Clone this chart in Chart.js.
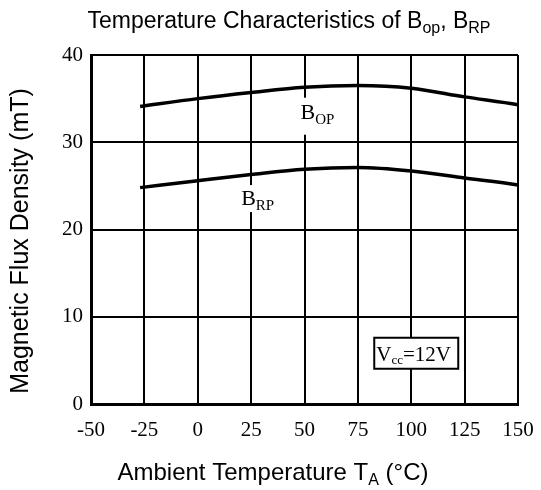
<!DOCTYPE html>
<html>
<head>
	<meta charset="UTF-8">
	<title>Temperature Characteristics of Bop, BRP</title>
	<script src="https://cdn.jsdelivr.net/npm/chart.js"></script>
	<style>
		body {
			margin: 0;
			padding: 0;
			background: #ffffff;
		}

		#chartContainer {
			width: 541px;
			height: 490px;
			position: relative;
		}
	</style>
	<script>
		// temperature (°C) and flux density (mT)
		const bopTemps = [-27, 0, 25, 50, 75, 100, 125, 150, 154];
		const bopValues = [34.1, 35.0, 35.7, 36.3, 36.5, 36.2, 35.2, 34.3, 34.1];
		const brpTemps = [-27, 0, 25, 50, 75, 100, 125, 150, 154];
		const brpValues = [24.8, 25.6, 26.3, 26.9, 27.1, 26.7, 25.9, 25.1, 24.9];

		const xTicks = [-50, -25, 0, 25, 50, 75, 100, 125, 150];
		const yTicks = [0, 10, 20, 30, 40];

		const sans = '"Liberation Sans", Arial, sans-serif';
		const serif = '"Liberation Serif", "Times New Roman", serif';

		// draw a row of text pieces (for subscripts)
		function drawRuns(ctx, runs, x, y, align) {
			let total = 0;
			runs.forEach(r => {
				ctx.font = r.font;
				total += ctx.measureText(r.text).width;
			});
			let cx = align === 'center' ? x - total / 2 : x;
			runs.forEach(r => {
				ctx.font = r.font;
				ctx.fillText(r.text, cx, y + (r.dy || 0));
				cx += ctx.measureText(r.text).width;
			});
			return total;
		}

		const textPlugin = {
			id: 'extraText',
			afterDraw: (chart) => {
				const {ctx, scales} = chart;
				const xs = scales.x, ys = scales.y;
				ctx.save();
				ctx.fillStyle = '#000';
				ctx.textBaseline = 'alphabetic';
				ctx.textAlign = 'left';

				// main title
				drawRuns(ctx, [
					{text: 'Temperature Characteristics of B', font: '23px ' + sans},
					{text: 'op', font: '16px ' + sans, dy: 5},
					{text: ', B', font: '23px ' + sans},
					{text: 'RP', font: '16px ' + sans, dy: 5}
				], 289, 28, 'center');

				// x axis title
				drawRuns(ctx, [
					{text: 'Ambient Temperature T', font: '24px ' + sans},
					{text: 'A', font: '16px ' + sans, dy: 5},
					{text: ' (°C)', font: '24px ' + sans}
				], 273, 480, 'center');

				// y axis title
				ctx.save();
				ctx.translate(28, 241);
				ctx.rotate(-Math.PI / 2);
				ctx.textAlign = 'center';
				ctx.font = '25px ' + sans;
				ctx.fillText('Magnetic Flux Density (mT)', 0, 0);
				ctx.restore();

				// B_OP label
				let lx = xs.getPixelForValue(50) - 4;
				let ly = ys.getPixelForValue(32.7);
				ctx.fillStyle = '#fff';
				ctx.fillRect(lx - 2, ly - 21, 40, 37);
				ctx.fillStyle = '#000';
				drawRuns(ctx, [
					{text: 'B', font: '22px ' + serif},
					{text: 'OP', font: '15px ' + serif, dy: 5}
				], lx, ly, 'left');

				// B_RP label
				lx = xs.getPixelForValue(25) - 10;
				ly = ys.getPixelForValue(22.8);
				ctx.fillStyle = '#fff';
				ctx.fillRect(lx - 2, ly - 20, 40, 27);
				ctx.fillStyle = '#000';
				drawRuns(ctx, [
					{text: 'B', font: '22px ' + serif},
					{text: 'RP', font: '15px ' + serif, dy: 5}
				], lx, ly, 'left');

				// Vcc box
				const bx = xs.getPixelForValue(100) - 37;
				const by = ys.getPixelForValue(10) + 21;
				ctx.fillStyle = '#fff';
				ctx.fillRect(bx, by, 84, 31);
				ctx.strokeStyle = '#000';
				ctx.lineWidth = 2;
				ctx.strokeRect(bx, by, 84, 31);
				ctx.fillStyle = '#000';
				drawRuns(ctx, [
					{text: 'V', font: '21px ' + serif},
					{text: 'cc', font: '13px ' + serif, dy: 3},
					{text: '=12V', font: '21px ' + serif}
				], bx + 2, by + 23, 'left');

				ctx.restore();
			}
		};

		window.onload = function () {
			const ctx = document.getElementById('myChart').getContext('2d');
			new Chart(ctx, {
				type: 'line',
				data: {
					datasets: [{
						label: 'BOP',
						data: bopTemps.map((t, i) => ({x: t, y: bopValues[i]})),
						borderColor: '#000',
						borderWidth: 3.5,
						pointRadius: 0,
						cubicInterpolationMode: 'monotone',
						clip: false
					}, {
						label: 'BRP',
						data: brpTemps.map((t, i) => ({x: t, y: brpValues[i]})),
						borderColor: '#000',
						borderWidth: 3.5,
						pointRadius: 0,
						cubicInterpolationMode: 'monotone',
						clip: false
					}]
				},
				options: {
					responsive: false,
					animation: false,
					layout: {
						padding: {left: 0, top: 55, right: 23, bottom: 0}
					},
					scales: {
						x: {
							type: 'linear',
							min: xTicks[0],
							max: xTicks[xTicks.length - 1],
							afterFit: (scale) => {
								scale.height = 86;
								scale.paddingLeft = 0;
								scale.paddingRight = 0;
							},
							afterBuildTicks: (scale) => { scale.ticks = xTicks.map(v => ({value: v})); },
							ticks: {
								color: '#000',
								padding: 14,
								maxRotation: 0,
								font: {family: serif, size: 21}
							},
							grid: {
								color: '#000',
								lineWidth: 2,
								drawTicks: false
							},
							border: {color: '#000', width: 3}
						},
						y: {
							min: yTicks[0],
							max: yTicks[yTicks.length - 1],
							afterFit: (scale) => {
								scale.width = 91;
								scale.paddingTop = 0;
								scale.paddingBottom = 0;
							},
							afterBuildTicks: (scale) => { scale.ticks = yTicks.map(v => ({value: v})); },
							ticks: {
								color: '#000',
								padding: 8,
								font: {family: serif, size: 21}
							},
							grid: {
								color: '#000',
								lineWidth: 2,
								drawTicks: false
							},
							border: {color: '#000', width: 3}
						}
					},
					plugins: {
						legend: {display: false},
						tooltip: {enabled: false}
					}
				},
				plugins: [textPlugin]
			});
		};
	</script>
</head>

<body>
	<div id="chartContainer">
		<canvas id="myChart" width="541" height="490"></canvas>
	</div>
</body>

</html>
